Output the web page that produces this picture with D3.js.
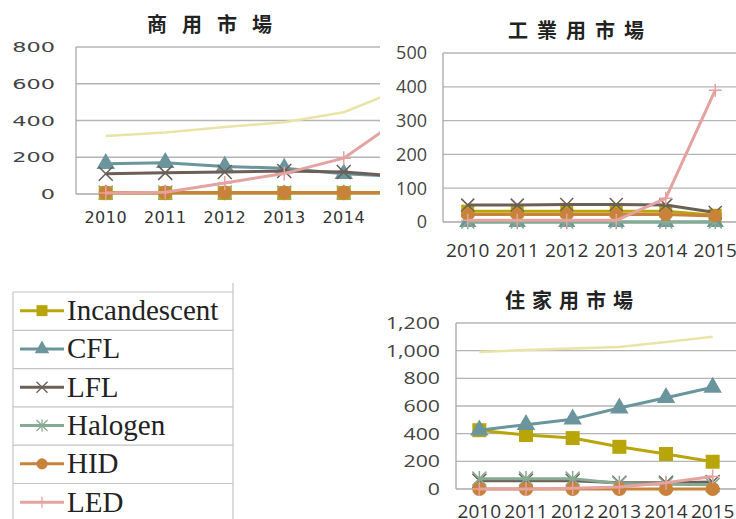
<!DOCTYPE html>
<html><head><meta charset="utf-8">
<script src="https://cdn.jsdelivr.net/npm/d3@7"></script>
<style>html,body{margin:0;padding:0;background:#fff;overflow:hidden}</style>
</head><body>
<svg id="c" width="736" height="519"></svg>
<script>
const years = ["2010","2011","2012","2013","2014","2015"];
const seriesNames = ["Incandescent","CFL","LFL","Halogen","HID","LED"];

// 商用市場
const comIncandescent = [5,5,5,5,5,5];
const comCFL = [165,170,150,140,110,95];
const comLFL = [110,115,120,125,120,95];
const comHalogen = [8,8,8,8,8,8];
const comHID = [8,8,8,8,8,8];
const comLED = [5,10,60,112,195,420];
const comTotal = [315,335,365,390,445,575];
const comTicks = [0,200,400,600,800];

// 工業用市場
const indIncandescent = [32,32,32,32,32,20];
const indCFL = [0,0,0,0,0,0];
const indLFL = [50,50,52,52,50,28];
const indHalogen = [0,0,0,0,0,0];
const indHID = [22,22,22,22,22,18];
const indLED = [5,5,5,5,70,390];
const indTicks = [0,100,200,300,400,500];

// 住家用市場
const resIncandescent = [425,390,368,305,253,197];
const resCFL = [425,465,505,585,660,735];
const resLFL = [60,60,60,45,45,50];
const resHalogen = [75,75,75,40,35,30];
const resHID = [0,0,0,0,0,0];
const resLED = [0,0,5,15,45,90];
const resTotal = [990,1005,1015,1027,1063,1100];
const resTicks = [0,200,400,600,800,1000,1200];

const colors = {Incandescent:"#b7a50a", CFL:"#6a959c", LFL:"#6b5f57", Halogen:"#86ab92", HID:"#c8823a", LED:"#e4a2a0", Total:"#e9e4a6"};
const markerKind = {Incandescent:"square", CFL:"triangle", LFL:"x", Halogen:"star", HID:"circle", LED:"plus", Total:"none"};

const svg = d3.select("#c");
const defs = svg.append("defs");
defs.append("clipPath").attr("id","clipCom").append("rect").attr("x",0).attr("y",0).attr("width",380).attr("height",260);

function markerPath(kind, s){
  if(kind==="square") return d3.symbol(d3.symbolSquare, s*s*1.0)();
  if(kind==="triangle") return d3.symbol(d3.symbolTriangle, s*s*0.75)();
  if(kind==="circle") return d3.symbol(d3.symbolCircle, s*s*0.8)();
  const h = s/2;
  if(kind==="x") return `M${-h},${-h}L${h},${h}M${-h},${h}L${h},${-h}`;
  if(kind==="star") return `M${-h},${-h}L${h},${h}M${-h},${h}L${h},${-h}M0,${-h*1.1}L0,${h*1.1}`;
  if(kind==="plus") return `M0,${-h}L0,${h}M${-h},0L${h},0`;
  return "";
}

function drawChart(cfg){
  const g = svg.append("g");
  if(cfg.clip) g.attr("clip-path", `url(#${cfg.clip})`);
  const x = d3.scaleBand().domain(years).range([cfg.left, cfg.right]).padding(0);
  const y = d3.scaleLinear().domain(cfg.domain).range([cfg.bottom, cfg.top]);
  const cx = d => x(d) + x.bandwidth()/2;

  g.append("g").selectAll("line").data(cfg.ticks.filter(t=>t>0)).join("line")
    .attr("x1", cfg.left).attr("x2", 736)
    .attr("y1", d=>y(d)).attr("y2", d=>y(d))
    .attr("stroke","#b4b4b4").attr("stroke-width",1.3);
  g.append("line").attr("x1",cfg.left).attr("x2",cfg.left).attr("y1",y(cfg.domain[1])).attr("y2",y(0))
    .attr("stroke","#a8a8a8").attr("stroke-width",1.3);
  g.append("line").attr("x1",cfg.left).attr("x2",736).attr("y1",y(0)).attr("y2",y(0))
    .attr("stroke","#a8a8a8").attr("stroke-width",1.3);

  g.append("g").selectAll("text").data(cfg.ticks).join("text")
    .attr("transform", d=>`translate(${cfg.yLabelX},${y(d)}) scale(${cfg.yScaleX},1)`)
    .attr("text-anchor","end").attr("dy","0.36em")
    .attr("font-family", cfg.yFont).attr("font-size", cfg.yFontSize).attr("fill","#444")
    .text(d=>d3.format(cfg.yFormat)(d));
  g.append("g").selectAll("text").data(years.filter(d=>cx(d)+18 < (cfg.clipRight||9999) || true)).join("text")
    .attr("x", d=>cx(d)).attr("y", cfg.xLabelY).attr("text-anchor","middle")
    .attr("font-family", cfg.xFont).attr("font-size", cfg.xFontSize).attr("fill","#333")
    .attr("letter-spacing", cfg.xSpacing||0)
    .text(d=>d);

  const line = d3.line().x((d,i)=>cx(years[i])).y(d=>y(d));
  cfg.series.forEach(s=>{
    const col = colors[s.name];
    const sg = g.append("g");
    sg.append("path").datum(s.values).attr("d", line)
      .attr("fill","none").attr("stroke", col)
      .attr("stroke-width", s.name==="Total"?2.5:3).attr("stroke-linejoin","round");
    const k = markerKind[s.name];
    if(k!=="none"){
      const filled = (k==="square"||k==="triangle"||k==="circle");
      sg.selectAll("path.m").data(s.values).join("path").attr("class","m")
        .attr("transform",(d,i)=>`translate(${cx(years[i])},${y(d)})`)
        .attr("d", markerPath(k, cfg.markerSize))
        .attr("fill", filled?col:"none").attr("stroke", col)
        .attr("stroke-width", filled?0:1.5);
    }
  });

  g.append("text").attr("x", cfg.titleX).attr("y", cfg.titleY)
    .attr("font-family","'Noto Sans CJK TC','Noto Sans CJK SC',sans-serif").attr("font-weight",700)
    .attr("font-size",20).attr("letter-spacing", cfg.titleSpacing).attr("fill","#222")
    .text(cfg.title);
}

function mk(names, arrs){ return names.map((n,i)=>({name:n, values:arrs[i]})); }

drawChart({
  title:"商用市場", titleX:147, titleY:32, titleSpacing:15, clip:"clipCom",
  left:76, right:433, top:47, bottom:194, domain:[0,800], ticks:comTicks,
  yLabelX:55, yScaleX:1.6, yFont:"'DejaVu Sans',sans-serif", yFontSize:14, yFormat:"d",
  xLabelY:223, xFont:"'DejaVu Sans',sans-serif", xFontSize:16, xSpacing:0.5, markerSize:14,
  series: mk(["Incandescent","CFL","LFL","Halogen","HID","LED","Total"],
    [comIncandescent,comCFL,comLFL,comHalogen,comHID,comLED,comTotal])
});

drawChart({
  title:"工業用市場", titleX:508, titleY:38, titleSpacing:9,
  left:443, right:740, top:53, bottom:222, domain:[0,500], ticks:indTicks,
  yLabelX:427, yScaleX:1, yFont:"'Open Sans',sans-serif", yFontSize:18, yFormat:"d",
  xLabelY:257, xFont:"'Open Sans',sans-serif", xFontSize:19, markerSize:13,
  series: mk(["Incandescent","CFL","LFL","Halogen","HID","LED"],
    [indIncandescent,indCFL,indLFL,indHalogen,indHID,indLED])
});

drawChart({
  title:"住家用市場", titleX:505, titleY:308, titleSpacing:7,
  left:456, right:736, top:323, bottom:489, domain:[0,1200], ticks:resTicks,
  yLabelX:440, yScaleX:1.25, yFont:"'Open Sans',sans-serif", yFontSize:17, yFormat:",",
  xLabelY:518, xFont:"'Open Sans',sans-serif", xFontSize:19, markerSize:14,
  series: mk(["Incandescent","CFL","LFL","Halogen","HID","LED","Total"],
    [resIncandescent,resCFL,resLFL,resHalogen,resHID,resLED,resTotal])
});

// Legend table
const lg = svg.append("g");
const rowY = d3.scaleBand().domain(seriesNames).range([292, 292+38.3*6]).padding(0);
lg.append("line").attr("x1",233).attr("x2",233).attr("y1",283).attr("y2",519).attr("stroke","#c4c4c4").attr("stroke-width",1.2);
lg.append("line").attr("x1",13).attr("x2",13).attr("y1",292).attr("y2",519).attr("stroke","#c4c4c4").attr("stroke-width",1.2);
lg.selectAll("line.r").data(seriesNames).join("line").attr("class","r")
  .attr("x1",13).attr("x2",233).attr("y1",d=>rowY(d)).attr("y2",d=>rowY(d))
  .attr("stroke","#c4c4c4").attr("stroke-width",1.2);
seriesNames.forEach(n=>{
  const cy = rowY(n) + rowY.bandwidth()/2 - 0.5;
  const col = colors[n], k = markerKind[n];
  lg.append("line").attr("x1",20).attr("x2",64).attr("y1",cy).attr("y2",cy).attr("stroke",col).attr("stroke-width",3);
  const filled = (k==="square"||k==="triangle"||k==="circle");
  lg.append("path").attr("transform",`translate(42,${cy})`).attr("d", markerPath(k, 11))
    .attr("fill", filled?col:"none").attr("stroke",col).attr("stroke-width",filled?0:1.3);
  lg.append("text").attr("x",67).attr("y",cy+9.5)
    .attr("font-family","'Liberation Serif','Times New Roman',serif").attr("font-size",29).attr("fill","#222")
    .text(n);
});
</script>
</body></html>
